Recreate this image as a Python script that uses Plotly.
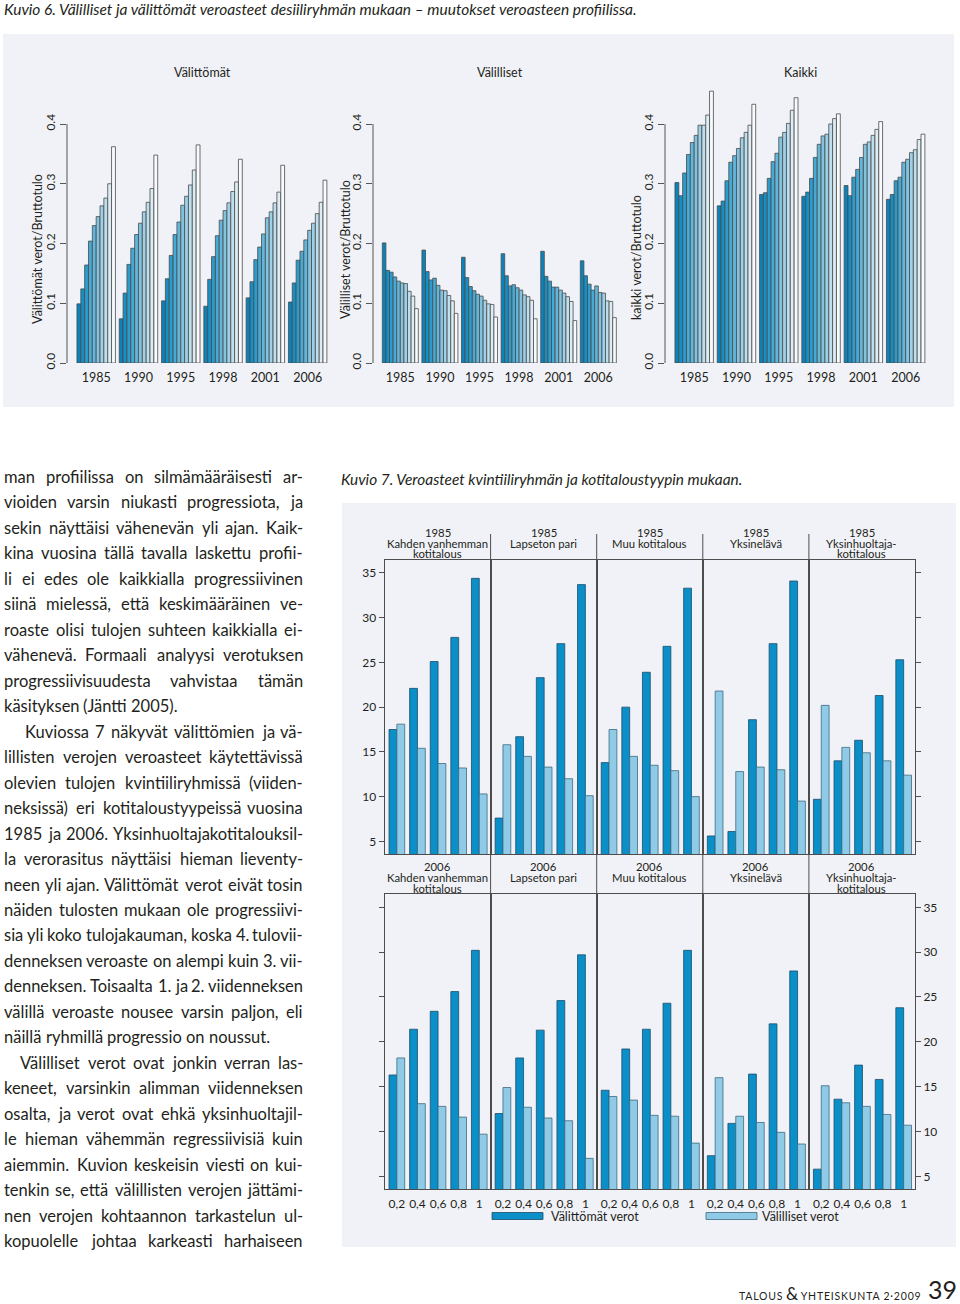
import plotly.graph_objects as go

W, H = 960, 1304
FONT = "Lato"
TXT = "#231f20"

# ---------------- Kuvio 6 data (share of gross income, deciles 1..10) ----------------
years6 = ["1985", "1990", "1995", "1998", "2001", "2006"]

dir_1985 = [0.099, 0.124, 0.164, 0.204, 0.230, 0.245, 0.263, 0.276, 0.300, 0.362]
dir_1990 = [0.074, 0.117, 0.165, 0.192, 0.215, 0.234, 0.253, 0.269, 0.292, 0.348]
dir_1995 = [0.104, 0.141, 0.180, 0.215, 0.236, 0.264, 0.279, 0.298, 0.323, 0.365]
dir_1998 = [0.095, 0.140, 0.178, 0.213, 0.239, 0.255, 0.268, 0.287, 0.303, 0.341]
dir_2001 = [0.109, 0.136, 0.173, 0.194, 0.216, 0.243, 0.253, 0.268, 0.286, 0.331]
dir_2006 = [0.102, 0.134, 0.172, 0.187, 0.206, 0.222, 0.234, 0.250, 0.269, 0.306]

ind_1985 = [0.201, 0.155, 0.152, 0.144, 0.137, 0.134, 0.133, 0.120, 0.112, 0.091]
ind_1990 = [0.189, 0.153, 0.139, 0.142, 0.130, 0.122, 0.121, 0.113, 0.104, 0.083]
ind_1995 = [0.177, 0.143, 0.128, 0.121, 0.115, 0.112, 0.105, 0.099, 0.098, 0.077]
ind_1998 = [0.183, 0.146, 0.129, 0.131, 0.126, 0.122, 0.114, 0.111, 0.105, 0.074]
ind_2001 = [0.187, 0.145, 0.137, 0.127, 0.127, 0.122, 0.117, 0.111, 0.103, 0.071]
ind_2006 = [0.171, 0.146, 0.132, 0.122, 0.129, 0.118, 0.117, 0.104, 0.103, 0.076]

all_1985 = [0.302, 0.280, 0.318, 0.349, 0.369, 0.381, 0.398, 0.398, 0.415, 0.455]
all_1990 = [0.263, 0.271, 0.305, 0.336, 0.347, 0.359, 0.377, 0.386, 0.398, 0.433]
all_1995 = [0.282, 0.285, 0.309, 0.337, 0.351, 0.378, 0.386, 0.401, 0.423, 0.444]
all_1998 = [0.279, 0.286, 0.309, 0.344, 0.366, 0.380, 0.383, 0.400, 0.409, 0.417]
all_2001 = [0.297, 0.280, 0.311, 0.324, 0.344, 0.366, 0.370, 0.381, 0.391, 0.404]
all_2006 = [0.274, 0.282, 0.305, 0.311, 0.336, 0.341, 0.352, 0.357, 0.374, 0.383]

y6_ticks = [0.0, 0.1, 0.2, 0.3, 0.4]
y6_ticktext = ["0.0", "0.1", "0.2", "0.3", "0.4"]

# ---------------- Kuvio 7 data (%, quintiles) ----------------
quintiles = ["0,2", "0,4", "0,6", "0,8", "1"]
hh_types = [["Kahden vanhemman", "kotitalous"], ["Lapseton pari"], ["Muu kotitalous"],
            ["Yksinelävä"], ["Yksinhuoltaja-", "kotitalous"]]

kahden_1985_dir = [17.5, 22.1, 25.1, 27.8, 34.4]
kahden_1985_ind = [18.1, 15.4, 13.7, 13.2, 10.3]
lapseton_1985_dir = [7.6, 16.7, 23.3, 27.1, 33.7]
lapseton_1985_ind = [15.8, 14.5, 13.3, 12.0, 10.1]
muu_1985_dir = [13.8, 20.0, 23.9, 26.8, 33.3]
muu_1985_ind = [17.5, 14.5, 13.5, 12.9, 10.0]
yksin_1985_dir = [5.6, 6.1, 18.6, 27.1, 34.1]
yksin_1985_ind = [21.8, 12.8, 13.3, 13.0, 9.5]
yh_1985_dir = [9.7, 14.0, 16.3, 21.3, 25.3]
yh_1985_ind = [20.2, 15.5, 14.9, 14.0, 12.4]

kahden_2006_dir = [16.3, 21.4, 23.4, 25.6, 30.2]
kahden_2006_ind = [18.2, 13.1, 12.8, 11.6, 9.7]
lapseton_2006_dir = [12.0, 18.2, 21.3, 24.6, 29.7]
lapseton_2006_ind = [14.9, 12.7, 11.5, 11.2, 7.0]
muu_2006_dir = [14.6, 19.2, 21.4, 24.3, 30.2]
muu_2006_ind = [13.9, 13.5, 11.8, 11.7, 8.7]
yksin_2006_dir = [7.3, 10.9, 16.4, 22.0, 27.9]
yksin_2006_ind = [16.0, 11.7, 11.0, 9.9, 8.6]
yh_2006_dir = [5.8, 13.6, 17.4, 15.8, 23.8]
yh_2006_ind = [15.1, 13.2, 12.8, 11.9, 10.7]

y7_ticks = [5, 10, 15, 20, 25, 30, 35]

# ---------------- Body text ----------------
body_lines = [
    "man profiilissa on silmämääräisesti ar-",
    "vioiden varsin niukasti progressiota, ja",
    "sekin näyttäisi vähenevän yli ajan. Kaik-",
    "kina vuosina tällä tavalla laskettu profii-",
    "li ei edes ole kaikkialla progressiivinen",
    "siinä mielessä, että keskimääräinen ve-",
    "roaste olisi tulojen suhteen kaikkialla ei-",
    "vähenevä. Formaali analyysi verotuksen",
    "progressiivisuudesta vahvistaa tämän",
    "käsityksen (Jäntti 2005).",
    "Kuviossa 7 näkyvät välittömien ja vä-",
    "lillisten verojen veroasteet käytettävissä",
    "olevien tulojen kvintiiliryhmissä (viiden-",
    "neksissä) eri kotitaloustyypeissä vuosina",
    "1985 ja 2006. Yksinhuoltajakotitalouksil-",
    "la verorasitus näyttäisi hieman lieventy-",
    "neen yli ajan. Välittömät verot eivät tosin",
    "näiden tulosten mukaan ole progressiivi-",
    "sia yli koko tulojakauman, koska 4. tulovii-",
    "denneksen veroaste on alempi kuin 3. vii-",
    "denneksen. Toisaalta 1. ja 2. viidenneksen",
    "välillä veroaste nousee varsin paljon, eli",
    "näillä ryhmillä progressio on noussut.",
    "Välilliset verot ovat jonkin verran las-",
    "keneet, varsinkin alimman viidenneksen",
    "osalta, ja verot ovat ehkä yksinhuoltajil-",
    "le hieman vähemmän regressiivisiä kuin",
    "aiemmin. Kuvion keskeisin viesti on kui-",
    "tenkin se, että välillisten verojen jättämi-",
    "nen verojen kohtaannon tarkastelun ul-",
    "kopuolelle johtaa karkeasti harhaiseen",
]
para_end = {9, 22}
para_start = {10: 25, 23: 20}


def fx(p):
    return p / W


def fy(p):
    return 1 - p / H


fig = go.Figure()
shapes = []
annotations = []
layout = {}

GRAY = "#f1f2f7"
shapes.append(dict(type="rect", xref="paper", yref="paper", x0=fx(3), x1=fx(954),
                   y0=fy(407), y1=fy(34), fillcolor=GRAY, line_width=0, layer="below"))
shapes.append(dict(type="rect", xref="paper", yref="paper", x0=fx(342), x1=fx(956),
                   y0=fy(1247), y1=fy(503), fillcolor=GRAY, line_width=0, layer="below"))


def ann(x, y, text, size=12, xanchor="center", yanchor="middle", angle=0, color=TXT, xref="paper"):
    annotations.append(dict(x=x, y=y, xref=xref, yref="paper", text=text, showarrow=False,
                            xanchor=xanchor, yanchor=yanchor, textangle=angle,
                            borderpad=0, borderwidth=0,
                            font=dict(family=FONT, size=size, color=color)))


# ---------------- Kuvio 6 ----------------
ann(fx(4), fy(9), "<i>Kuvio 6. Välilliset ja välittömät veroasteet desiiliryhmän mukaan – muutokset veroasteen profiilissa.</i>",
    size=15.5, xanchor="left")

DEC_COLS = ["#0a83bc", "#1590c7", "#2a9dce", "#45aad5", "#62b7dc",
            "#80c4e2", "#9ed1e8", "#bddfee", "#dcedf5", "#f8fbfd"]

panels6 = [
    ("Välittömät", "Välittömät verot/Bruttotulo",
     [dir_1985, dir_1990, dir_1995, dir_1998, dir_2001, dir_2006], (67, 330.5), 202, 38, 249),
    ("Välilliset", "Välilliset verot/Bruttotulo",
     [ind_1985, ind_1990, ind_1995, ind_1998, ind_2001, ind_2006], (373, 619.7), 500, 345, 250),
    ("Kaikki", "kaikki verot/Bruttotulo",
     [all_1985, all_1990, all_1995, all_1998, all_2001, all_2006], (665, 928.5), 800, 637, 258),
]

for n, (head, ytitle, lists, (l, r), hx, tx, ty) in enumerate(panels6, start=1):
    xs = "x" if n == 1 else f"x{n}"
    ys = "y" if n == 1 else f"y{n}"
    for d in range(10):
        fig.add_trace(go.Bar(
            x=years6, y=[lst[d] for lst in lists], xaxis=xs, yaxis=ys,
            width=1 / 11, offset=-5 / 11 + d / 11,
            marker=dict(color=DEC_COLS[d], line=dict(color="#4a4a4a", width=0.8)),
            showlegend=False, hoverinfo="x+y"))
    layout["xaxis" if n == 1 else f"xaxis{n}"] = dict(
        domain=[fx(l), fx(r)], range=[-0.69, 5.54], type="category", anchor=ys,
        showgrid=False, zeroline=False, showline=False, ticks="", ticklabelstandoff=5,
        tickfont=dict(family=FONT, size=12.5, color=TXT), fixedrange=True)
    layout["yaxis" if n == 1 else f"yaxis{n}"] = dict(
        domain=[fy(363), fy(86)], range=[0, 0.4636], anchor=xs,
        tickvals=y6_ticks, ticktext=y6_ticktext, tickangle=-90,
        ticks="outside", ticklen=6, tickcolor="#555", tickwidth=1,
        showgrid=False, zeroline=False, showline=False,
        tickfont=dict(family=FONT, size=12, color=TXT), fixedrange=True)
    shapes.append(dict(type="line", xref=f"{xs} domain", yref=ys, x0=0, x1=0, y0=0, y1=0.4,
                       line=dict(color="#555", width=1)))
    ann(fx(hx), fy(72), head, size=12.5)
    ann(fx(tx), fy(ty), ytitle, size=12.5, angle=-90)

# ---------------- Kuvio 7 ----------------
ann(fx(341), fy(479), "<i>Kuvio 7. Veroasteet kvintiiliryhmän ja kotitaloustyypin mukaan.</i>",
    size=15.4, xanchor="left")

DARK = "#0a8fc9"
LIGHT = "#8fcbe6"
rows7 = [
    ("1985", [(kahden_1985_dir, kahden_1985_ind), (lapseton_1985_dir, lapseton_1985_ind),
              (muu_1985_dir, muu_1985_ind), (yksin_1985_dir, yksin_1985_ind),
              (yh_1985_dir, yh_1985_ind)], (560, 854.3), [532.3, 543.3, 553.8]),
    ("2006", [(kahden_2006_dir, kahden_2006_ind), (lapseton_2006_dir, lapseton_2006_ind),
              (muu_2006_dir, muu_2006_ind), (yksin_2006_dir, yksin_2006_ind),
              (yh_2006_dir, yh_2006_ind)], (894.3, 1189.3), [866.7, 877.7, 888.2]),
]
PX0, PW = 384.5, 106.1
FRAME = "#4d4d4d"
n = 4
for r, (year, pairs, (top, bot), strip_y) in enumerate(rows7):
    for c, (dvals, ivals) in enumerate(pairs):
        xs, ys = f"x{n}", f"y{n}"
        fig.add_trace(go.Bar(x=quintiles, y=dvals, xaxis=xs, yaxis=ys, width=0.38, offset=-0.38,
                             marker=dict(color=DARK, line=dict(color="#1d4d68", width=0.8)),
                             showlegend=False, name="Välittömät verot"))
        fig.add_trace(go.Bar(x=quintiles, y=ivals, xaxis=xs, yaxis=ys, width=0.38, offset=0,
                             marker=dict(color=LIGHT, line=dict(color="#3d6a80", width=0.8)),
                             showlegend=False, name="Välilliset verot"))
        l = PX0 + c * PW
        layout[f"xaxis{n}"] = dict(
            domain=[fx(l), fx(l + PW)], range=[-0.6, 4.55], type="category",
            categoryarray=quintiles, anchor=ys, showgrid=False, zeroline=False,
            showline=True, mirror=True, linecolor=FRAME, linewidth=1, ticks="",
            ticklabelstandoff=3,
            showticklabels=(r == 1), tickfont=dict(family=FONT, size=12, color=TXT), fixedrange=True)
        yax = dict(domain=[fy(bot), fy(top)], range=[3.55, 36.45], anchor=xs,
                   tickvals=y7_ticks, showgrid=False, zeroline=False,
                   showline=True, mirror=True, linecolor=FRAME, linewidth=1,
                   ticks="", showticklabels=False, tickcolor=FRAME, ticklen=5,
                   tickfont=dict(family=FONT, size=12, color=TXT), fixedrange=True)
        if c == 0:
            yax.update(side="left", ticks="outside", showticklabels=(r == 0))
        elif c == 4:
            yax.update(side="right", ticks="outside", showticklabels=(r == 1))
        layout[f"yaxis{n}"] = yax
        lines = [year] + hh_types[c]
        for k, t in enumerate(lines):
            annotations.append(dict(x=0.5, y=fy(strip_y[k]), xref=f"{xs} domain", yref="paper",
                                    text=t, showarrow=False, xanchor="center", yanchor="middle",
                                    borderpad=0,
                                    font=dict(family=FONT, size=11.3, color=TXT)))
        n += 1

for c in range(1, 5):
    xp = PX0 + c * PW
    shapes.append(dict(type="line", xref="paper", yref="paper", x0=fx(xp), x1=fx(xp),
                       y0=fy(534), y1=fy(1189.3), line=dict(color=FRAME, width=1)))

# legend
shapes.append(dict(type="rect", xref="paper", yref="paper", x0=fx(492), x1=fx(543),
                   y0=fy(1219.5), y1=fy(1212.5), fillcolor=DARK, line=dict(color="#1d4d68", width=0.8)))
shapes.append(dict(type="rect", xref="paper", yref="paper", x0=fx(706), x1=fx(757),
                   y0=fy(1219.5), y1=fy(1212.5), fillcolor=LIGHT, line=dict(color="#3d6a80", width=0.8)))
ann(fx(551), fy(1216), "Välittömät verot", size=12.5, xanchor="left")
ann(fx(762), fy(1216), "Välilliset verot", size=12.5, xanchor="left")

# ---------------- Body text (justified by word placement) ----------------
BODY_SIZE = 16.5
CHW = {}
for w_, chars in [(0.24, "ijl.,:;'!|"), (0.30, "()"), (0.33, "f"), (0.35, "t-"), (0.37, "r"),
                  (0.43, "sz"), (0.46, "c"), (0.50, "akvxyäg"), (0.52, "e"),
                  (0.56, "bdhnopquö"), (0.58, "0123456789"), (0.77, "w"), (0.84, "m"),
                  (0.36, "J"), (0.56, "FT"), (0.63, "K"), (0.66, "V"), (0.61, "Y")]:
    for ch in chars:
        CHW[ch] = w_


def word_w(wd):
    return sum(CHW.get(ch, 0.52) for ch in wd) * BODY_SIZE


X_L, X_R = 4, 303
for i, line in enumerate(body_lines):
    yc = 477 + i * 25.47
    words = line.split()
    xl = para_start.get(i, X_L)
    widths = [word_w(wd) for wd in words]
    if i in para_end or len(words) == 1:
        gap = 0.25 * BODY_SIZE
        just = False
    else:
        gap = (X_R - xl - sum(widths)) / (len(words) - 1)
        just = True
    x = xl
    for k, wd in enumerate(words):
        if just and k == len(words) - 1:
            ann(fx(X_R), fy(yc), wd, size=BODY_SIZE, xanchor="right")
        else:
            ann(fx(x), fy(yc), wd, size=BODY_SIZE, xanchor="left")
        x += widths[k] + gap

# ---------------- Footer ----------------
ann(fx(921), fy(1303.5), "<span style='letter-spacing:0.8px'>TALOUS</span> "
    "<span style='font-size:17px'>&amp;</span> "
    "<span style='letter-spacing:0.8px'>YHTEISKUNTA 2·2009</span>",
    size=10.5, xanchor="right", yanchor="bottom")
ann(fx(957), fy(1303.5), "39", size=25, xanchor="right", yanchor="bottom")

fig.update_layout(
    width=W, height=H, margin=dict(l=0, r=0, t=0, b=0, pad=0, autoexpand=False),
    paper_bgcolor="white", plot_bgcolor="rgba(0,0,0,0)",
    barmode="group", showlegend=False,
    font=dict(family=FONT, color=TXT),
    shapes=shapes, annotations=annotations, **layout)

post = (
    "var de=document.documentElement, b=document.body;"
    "de.style.margin='0'; b.style.margin='0'; b.style.padding='0';"
    "de.style.height='1304px'; b.style.height='1304px';"
    "de.style.overflow='hidden'; b.style.overflow='hidden';"
    "document.querySelectorAll('.svg-container, .plot-container').forEach(function(e){e.style.display='block';});"
    "b.style.lineHeight='0';"
)
fig.write_html("out.html", config={"displayModeBar": False}, post_script=post)
